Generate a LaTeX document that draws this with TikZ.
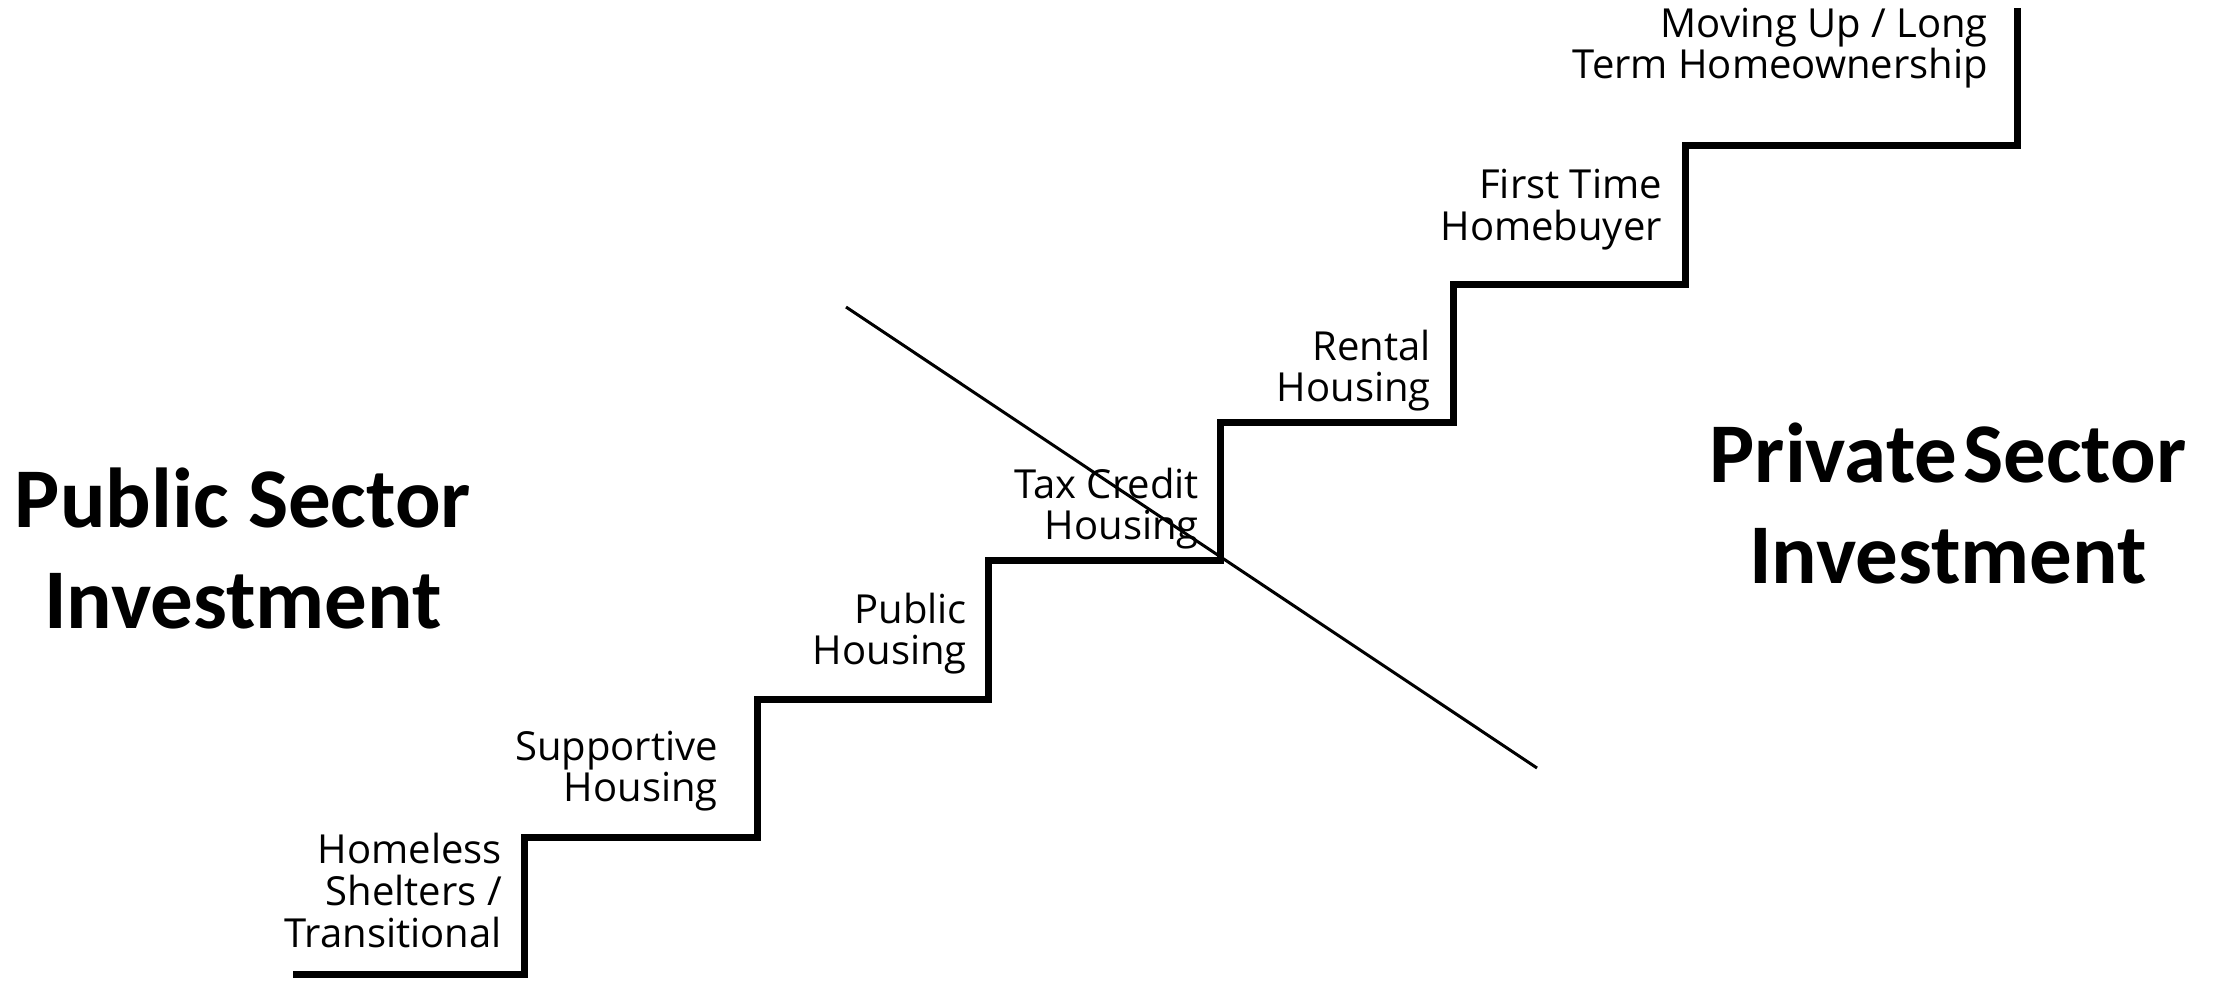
\documentclass[tikz,border=0pt]{standalone}
\usepackage{fontspec}
\setmainfont{Open Sans}
\newfontfamily\calibri{Carlito}
\tikzset{
  stair/.style={line width=7pt, line join=miter, line cap=butt},
  divider/.style={line width=3pt},
  lbl/.style={inner sep=0pt, anchor=base east, font=\fontsize{40}{39}\selectfont},
  bigtxt/.style={inner sep=0pt, anchor=base}
}
\begin{document}
\begin{tikzpicture}[x=1pt,y=-1pt]
\useasboundingbox (0,0) rectangle (2218,980);
% staircase corners
\coordinate (s0) at (293,974);
\coordinate (s1) at (524,974);
\coordinate (s2) at (524,837);
\coordinate (s3) at (757,837);
\coordinate (s4) at (757,699);
\coordinate (s5) at (988,699);
\coordinate (s6) at (988,560);
\coordinate (s7) at (1220,560);
\coordinate (s8) at (1220,422);
\coordinate (s9) at (1453,422);
\coordinate (s10) at (1453,284);
\coordinate (s11) at (1685,284);
\coordinate (s12) at (1685,145);
\coordinate (s13) at (2017,145);
\coordinate (s14) at (2017,8);
\draw[stair] (s0) -- (s1) -- (s2) -- (s3) -- (s4) -- (s5) -- (s6) -- (s7) -- (s8) -- (s9) -- (s10) -- (s11) -- (s12) -- (s13) -- (s14);
% dividing line
\coordinate (d1) at (846,307);
\coordinate (d2) at (1537,768);
\draw[divider] (d1) -- (d2);
% step labels
\node[lbl] (homeless) at (502,863) {\begin{tabular}[t]{@{}r@{}}Homeless\\Shelters /\\Transitional\end{tabular}};
\node[lbl] (supportive) at (718,760) {\begin{tabular}[t]{@{}r@{}}Supportive\\Housing\end{tabular}};
\node[lbl] (public) at (967,623) {\begin{tabular}[t]{@{}r@{}}Public\\Housing\end{tabular}};
\node[lbl] (taxcredit) at (1199,498) {\begin{tabular}[t]{@{}r@{}}Tax Credit\\Housing\end{tabular}};
\node[lbl] (rental) at (1431,360) {\begin{tabular}[t]{@{}r@{}}Rental\\Housing\end{tabular}};
\node[lbl] (firsttime) at (1662,198) {\begin{tabular}[t]{@{}r@{}}First Time\\Homebuyer\end{tabular}};
\node[lbl, font=\fontsize{40}{36}\selectfont] (movingup) at (1988,37) {\begin{tabular}[t]{@{}r@{}}Moving Up / Long\\Term Homeownership\end{tabular}};
% sector labels
\node[bigtxt, font=\calibri\bfseries\fontsize{85}{101}\selectfont] (publicsector) at (243,527) {\begin{tabular}[t]{@{}c@{}}Public Sector\\Investment\end{tabular}};
\node[bigtxt, font=\calibri\bfseries\fontsize{85}{101}\selectfont] (privatesector) at (1948,482) {\begin{tabular}[t]{@{}c@{}}{\spaceskip=6pt Private Sector}\\Investment\end{tabular}};
\end{tikzpicture}
\end{document}
